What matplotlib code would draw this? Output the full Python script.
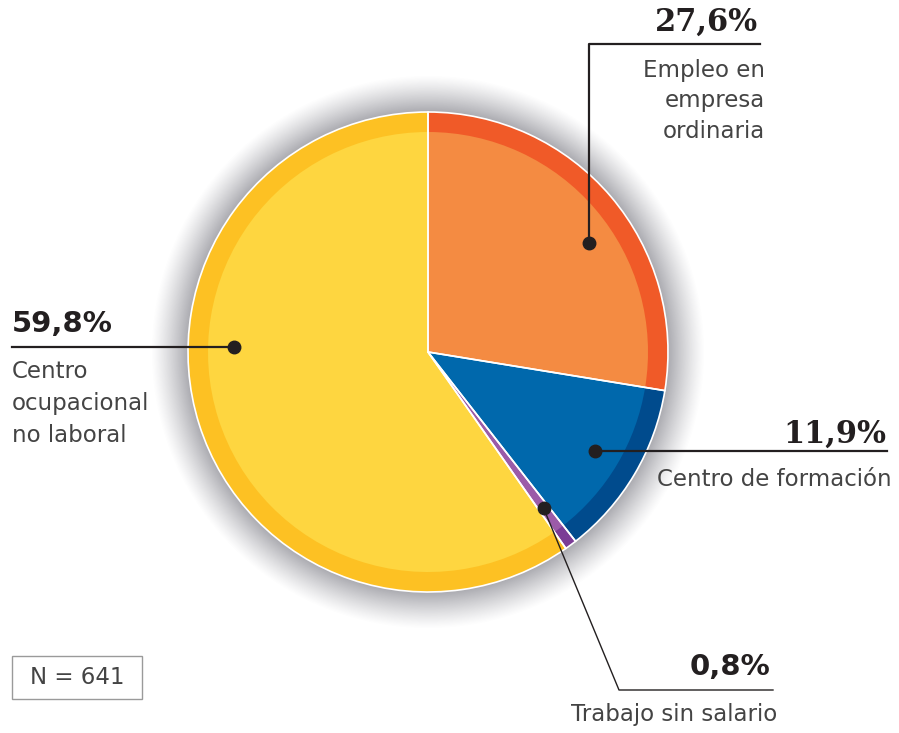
import numpy as np
import matplotlib.pyplot as plt
from matplotlib.patches import Rectangle

# data
categories = ["Empleo en\nempresa\nordinaria", "Centro de formación",
              "Trabajo sin salario", "Centro\nocupacional\nno laboral"]
values = [27.6, 11.9, 0.8, 59.8]
pct_labels = ["27,6%", "11,9%", "0,8%", "59,8%"]
n_total = 641

inner_colors = ["#F48B42", "#0068AC", "#9B5BA8", "#FED640"]
outer_colors = ["#F05A28", "#004B8D", "#7B3C96", "#FDC123"]

W, H = 899, 733
fig = plt.figure(figsize=(W / 100, H / 100), dpi=100)
ax = fig.add_axes([0, 0, 1, 1])

cx, cy = 428, H - 352
R = 240
ring = 20

# soft grey halo behind the pie
gx, gy = np.meshgrid(np.arange(W) + 0.5, np.arange(H) + 0.5)
d = np.hypot(gx - cx, gy - cy)
t = np.clip((d - R) / 37.0, 0, 1)
alpha = np.where(d < R - 2, 0, (1 - t) ** 1.2 * 0.52)
halo = np.zeros((H, W, 4))
halo[..., 0] = 0.36
halo[..., 1] = 0.36
halo[..., 2] = 0.40
halo[..., 3] = alpha
ax.imshow(halo, extent=(0, W, 0, H), origin="lower", zorder=0)

# pie: outer band, inner disc, white separators
wedges, _ = ax.pie(values, colors=outer_colors, radius=R, center=(cx, cy),
                   startangle=90, counterclock=False, frame=True,
                   wedgeprops=dict(edgecolor="none"))
ax.pie(values, colors=inner_colors, radius=R - ring, center=(cx, cy),
       startangle=90, counterclock=False, frame=True,
       wedgeprops=dict(edgecolor="none"))
ax.pie(values, colors=["none"] * 4, radius=R, center=(cx, cy),
       startangle=90, counterclock=False, frame=True,
       wedgeprops=dict(edgecolor="white", linewidth=1.2, fill=False))
ax.set_xlim(0, W)
ax.set_ylim(0, H)
ax.set_aspect("equal")
ax.axis("off")

ink = "#231F20"
txt = "#444444"
light = dict(family=["DejaVu Sans"], fontweight="normal", color=txt,
             fontsize=16.5)
bold_serif = dict(family=["DejaVu Serif"], fontweight="bold", color=ink, fontsize=22)
bold_sans = dict(family=["DejaVu Sans"], fontweight="bold", color=ink, fontsize=21)


def anchor(i, ang=None, frac=0.81):
    w = wedges[i]
    if ang is None:
        ang = (w.theta1 + w.theta2) / 2
    a = np.deg2rad(ang)
    return cx + frac * R * np.cos(a), cy + frac * R * np.sin(a)


def dot(p):
    ax.plot(p[0], p[1], "o", color=ink, markersize=9, zorder=5)


# 27,6% - Empleo en empresa ordinaria
p = anchor(0, ang=34)
ax.plot([p[0], p[0], 760], [p[1], H - 44, H - 44], color=ink, lw=1.6, zorder=4)
dot(p)
ax.text(758, H - 22, pct_labels[0], ha="right", va="center", **bold_serif)
for k, line in enumerate(categories[0].split("\n")):
    ax.text(765, H - 70 - 31 * k, line, ha="right", va="center", **light)

# 11,9% - Centro de formación
p = anchor(1)
ax.plot([p[0], 887], [p[1], p[1]], color=ink, lw=1.6, zorder=4)
dot(p)
ax.text(886, H - 434, pct_labels[1], ha="right", va="center", **bold_serif)
ax.text(892, H - 479, categories[1], ha="right", va="center", **light)

# 0,8% - Trabajo sin salario
p = anchor(2)
ax.plot([p[0], 619, 773], [p[1], H - 690, H - 690], color=ink, lw=1.0, zorder=4)
dot(p)
ax.text(770, H - 667, pct_labels[2], ha="right", va="center", **bold_sans)
ax.text(777, H - 715, categories[2], ha="right", va="center", **light)

# 59,8% - Centro ocupacional no laboral
p = anchor(3, ang=178.5)
ax.plot([12, p[0]], [p[1], p[1]], color=ink, lw=1.6, zorder=4)
dot(p)
ax.text(12, H - 324, pct_labels[3], ha="left", va="center", **bold_sans)
for k, line in enumerate(categories[3].split("\n")):
    ax.text(12, H - 371 - 32.5 * k, line, ha="left", va="center", **light)

# sample size box
ax.add_patch(Rectangle((12, H - 699), 130, 43, facecolor="white",
                       edgecolor="#9A9A9A", lw=1.0, zorder=3))
ax.text(77, H - 678, f"N = {n_total}", ha="center", va="center", **light)

fig.savefig("out.png", dpi=100)
